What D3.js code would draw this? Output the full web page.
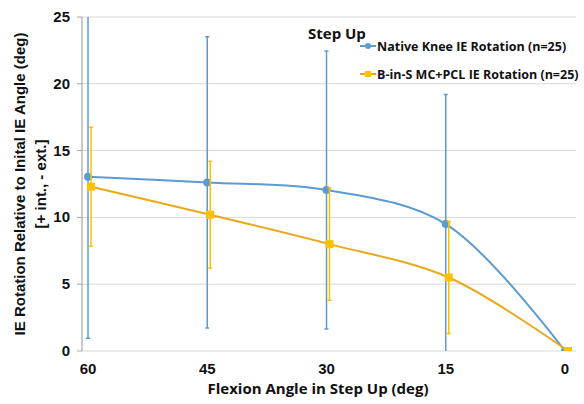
<!DOCTYPE html>
<html>
<head>
<meta charset="utf-8">
<script src="https://cdn.jsdelivr.net/npm/d3@7"></script>
<style>
  html, body { margin: 0; padding: 0; background: #fff; }
  svg { display: block; }
  .tick-label { font-family: "Liberation Sans", Arial, sans-serif; font-weight: bold; font-size: 15px; fill: #111; }
  .cal { font-family: "Open Sans", "Noto Sans", sans-serif; font-weight: bold; fill: #111; }
</style>
</head>
<body>
<svg id="chart" width="584" height="404"></svg>
<script>
// Step Up IE rotation.
const flexion = [60, 45, 30, 15, 0];
const nativeMean = [13.05, 12.62, 12.05, 9.5, 0];
const nativeErr = [12.1, 10.9, 10.4, 9.7, 0];
const binsMean = [12.3, 10.2, 8.0, 5.5, 0];
const binsErr = [4.45, 4.0, 4.2, 4.2, 0];
const yTicks = [0, 5, 10, 15, 20, 25];
const xTicks = [60, 45, 30, 15, 0];

const BLUE = '#5b9bd5';
const GOLD_LINE = '#e9a91b';
const GOLD = '#ffc000';

const svg = d3.select('#chart');
const M = { left: 82, right: 576, top: 17, bottom: 351 };

const x = d3.scaleLinear().domain([60, 0]).range([88, 565]);
const y = d3.scaleLinear().domain([0, 25]).range([M.bottom, M.top]);

svg.append('defs').append('clipPath').attr('id', 'plot')
  .append('rect').attr('x', M.left).attr('y', M.top)
  .attr('width', M.right - M.left).attr('height', M.bottom - M.top);

// gridlines
svg.append('g').selectAll('line').data(yTicks).join('line')
  .attr('x1', M.left).attr('x2', M.right)
  .attr('y1', d => y(d)).attr('y2', d => y(d))
  .attr('stroke', '#d9d9d9').attr('stroke-width', 1);

// y axis line + ticks
svg.append('line').attr('x1', M.left).attr('x2', M.left)
  .attr('y1', M.top).attr('y2', M.bottom).attr('stroke', '#a6a6a6').attr('stroke-width', 1.2);
svg.append('g').selectAll('line').data(yTicks).join('line')
  .attr('x1', M.left - 5).attr('x2', M.left)
  .attr('y1', d => y(d)).attr('y2', d => y(d))
  .attr('stroke', '#a6a6a6');

svg.append('g').selectAll('text').data(yTicks).join('text')
  .attr('class', 'tick-label')
  .attr('x', M.left - 12).attr('y', d => y(d) + 5)
  .attr('text-anchor', 'end').text(d => d);

svg.append('g').selectAll('text').data(xTicks).join('text')
  .attr('class', 'tick-label')
  .attr('x', d => x(d)).attr('y', 374)
  .attr('text-anchor', 'middle').text(d => d);

// titles
svg.append('text').attr('class', 'cal').attr('font-size', 15)
  .attr('x', 318).attr('y', 394).attr('text-anchor', 'middle')
  .text('Flexion Angle in Step Up (deg)');

const yt = svg.append('g').attr('transform', 'translate(0,184) rotate(-90)');
yt.append('text').attr('class', 'tick-label').attr('x', 0).attr('y', 25)
  .attr('text-anchor', 'middle').text('IE Rotation Relative to Inital IE Angle (deg)');
yt.append('text').attr('class', 'tick-label').attr('x', 0).attr('y', 46)
  .attr('text-anchor', 'middle').text('[+ int., - ext.]');

svg.append('text').attr('class', 'cal').attr('font-size', 15)
  .attr('x', 308).attr('y', 39).text('Step Up');

const series = [
  { mean: nativeMean, err: nativeErr, line: BLUE, mark: BLUE, bar: BLUE, dx: 0, shape: 'circle',
    label: 'Native Knee IE Rotation (n=25)' },
  { mean: binsMean, err: binsErr, line: GOLD_LINE, mark: GOLD, bar: GOLD, dx: 3, shape: 'square',
    label: 'B-in-S MC+PCL IE Rotation (n=25)' }
];

const plot = svg.append('g').attr('clip-path', 'url(#plot)');
const line = d3.line().curve(d3.curveCatmullRom.alpha(0.5));

function marker(g, s, cx, cy, size) {
  if (s.shape === 'circle') {
    g.append('circle').attr('cx', cx).attr('cy', cy).attr('r', size / 2).attr('fill', s.mark);
  } else {
    g.append('rect').attr('x', cx - size / 2).attr('y', cy - size / 2)
      .attr('width', size).attr('height', size).attr('fill', s.mark);
  }
}

series.forEach(s => {
  const g = plot.append('g');
  const pts = flexion.map((f, i) => ({ f, m: s.mean[i], e: s.err[i] }));
  // error bars
  const eb = pts.filter(p => p.e > 0);
  g.selectAll('line.bar').data(eb).join('line').attr('class', 'bar')
    .attr('x1', p => x(p.f) + s.dx).attr('x2', p => x(p.f) + s.dx)
    .attr('y1', p => y(p.m + p.e)).attr('y2', p => y(p.m - p.e))
    .attr('stroke', s.bar).attr('stroke-width', 1.5);
  ['+', '-'].forEach(sign => {
    g.selectAll('line.cap' + (sign === '+' ? 'u' : 'd')).data(eb).join('line')
      .attr('class', 'cap' + (sign === '+' ? 'u' : 'd'))
      .attr('x1', p => x(p.f) + s.dx - 2).attr('x2', p => x(p.f) + s.dx + 2)
      .attr('y1', p => y(sign === '+' ? p.m + p.e : p.m - p.e))
      .attr('y2', p => y(sign === '+' ? p.m + p.e : p.m - p.e))
      .attr('stroke', s.bar).attr('stroke-width', 1.5);
  });
  g.append('path').attr('d', line(pts.map(p => [x(p.f) + s.dx, y(p.m)])))
    .attr('fill', 'none').attr('stroke', s.line).attr('stroke-width', 2);
  pts.forEach(p => marker(g, s, x(p.f) + s.dx, y(p.m), s.shape === 'circle' ? 8 : 8));
});

// legend
const lg = svg.append('g');
series.forEach((s, i) => {
  const ly = 46 + i * 28;
  lg.append('line').attr('x1', 360).attr('x2', 376).attr('y1', ly).attr('y2', ly)
    .attr('stroke', s.line).attr('stroke-width', 2);
  marker(lg, s, 368, ly, 6);
  lg.append('text').attr('class', 'cal').attr('font-size', 12.5)
    .attr('x', 377).attr('y', ly + 4.5).text(s.label);
});
</script>
</body>
</html>
